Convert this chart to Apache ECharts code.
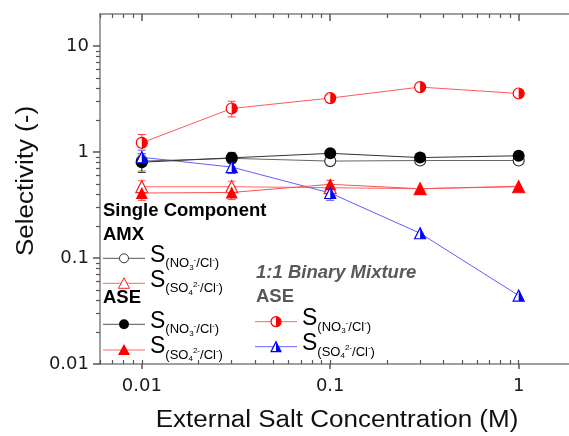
<!DOCTYPE html>
<html><head><meta charset="utf-8">
<script src="https://cdn.jsdelivr.net/npm/echarts@6/dist/echarts.min.js"></script>
<style>html,body{margin:0;padding:0;background:#fff}#c{width:569px;height:436px}</style>
</head><body><div id="c"></div><script>
// ---- data ----
const concentrations = [0.01, 0.03, 0.1, 0.3, 1];
const amxNO3 = [0.82, 0.87, 0.82, 0.83, 0.83];
const amxSO4 = [0.47, 0.47, 0.46, 0.45, 0.47];
const aseNO3 = [0.80, 0.88, 0.97, 0.885, 0.92];
const aseSO4 = [0.41, 0.415, 0.495, 0.45, 0.475];
const binNO3 = [1.22, 2.57, 3.22, 4.09, 3.56];
const binSO4 = [0.89, 0.72, 0.41, 0.171, 0.0442];
// error bars [low, high]
const amxNO3Err = [[0.66, 0.92], [0.80, 0.95], null, null, null];
const amxSO4Err = [[0.42, 0.535], [0.42, 0.53], null, null, null];
const aseNO3Err = [[0.64, 0.96], [0.78, 0.99], null, null, null];
const aseSO4Err = [[0.35, 0.47], [0.355, 0.47], [0.45, 0.54], null, null];
const binNO3Err = [[1.10, 1.46], [2.14, 3.01], null, null, null];
const binSO4Err = [[0.80, 1.04], [0.625, 0.82], [0.35, 0.45], null, null];
// ticks
const xTickLabels = [0.01, 0.1, 1];
const yTickLabels = [0.01, 0.1, 1, 10];
const xMinorTicks = [0.006, 0.007, 0.008, 0.009, 0.02, 0.03, 0.04, 0.05, 0.06, 0.07, 0.08, 0.09, 0.2, 0.3, 0.4, 0.5, 0.6, 0.7, 0.8, 0.9];
const yMinorTicks = [0.02, 0.03, 0.04, 0.05, 0.06, 0.07, 0.08, 0.09, 0.2, 0.3, 0.4, 0.5, 0.6, 0.7, 0.8, 0.9, 2, 3, 4, 5, 6, 7, 8, 9];

const chart = echarts.init(document.getElementById('c'), null, {renderer: 'canvas'});

const pairs = arr => concentrations.map((x, i) => [x, arr[i]]);
const errData = errs => concentrations.map((x, i) => errs[i] ? [x, errs[i][0], errs[i][1]] : null).filter(Boolean);

function errRender(color) {
  return function (params, api) {
    const x = api.value(0);
    const a = api.coord([x, api.value(2)]);
    const b = api.coord([x, api.value(1)]);
    const w = 4;
    const st = {stroke: color, lineWidth: 1};
    return {type: 'group', children: [
      {type: 'line', shape: {x1: a[0], y1: a[1], x2: b[0], y2: b[1]}, style: st},
      {type: 'line', shape: {x1: a[0] - w, y1: a[1], x2: a[0] + w, y2: a[1]}, style: st},
      {type: 'line', shape: {x1: b[0] - w, y1: b[1], x2: b[0] + w, y2: b[1]}, style: st}
    ]};
  };
}

function halfShape(kind, color, cx, cy, s) {
  const r = s / 2;
  if (kind === 'circle') {
    return [
      {type: 'circle', shape: {cx, cy, r}, style: {fill: '#fff', stroke: color, lineWidth: 1.2}},
      {type: 'sector', shape: {cx, cy, r0: 0, r, startAngle: -Math.PI / 2, endAngle: Math.PI / 2, clockwise: true}, style: {fill: color}}
    ];
  }
  return [
    {type: 'polygon', shape: {points: [[cx, cy - r], [cx + r, cy + r], [cx - r, cy + r]]}, style: {fill: '#fff', stroke: color, lineWidth: 1.2}},
    {type: 'polygon', shape: {points: [[cx, cy - r], [cx + r, cy + r], [cx, cy + r]]}, style: {fill: color}}
  ];
}
function halfRender(kind, color) {
  return function (params, api) {
    const p = api.coord([api.value(0), api.value(1)]);
    return {type: 'group', children: halfShape(kind, color, p[0], p[1], 11)};
  };
}

const axisGray = '#808080';
const FONT = 'Liberation Sans, Arial, sans-serif';

const xBase = {type: 'log', min: 0.006, max: 1.85, splitLine: {show: false}, minorTick: {show: false}, minorSplitLine: {show: false}};
const yBase = {type: 'log', min: 0.01, max: 20, splitLine: {show: false}, minorTick: {show: false}, minorSplitLine: {show: false}};

// ---- legend helpers ----
const mctx = document.createElement('canvas').getContext('2d');
function tw(t, size, weight) { mctx.font = (weight || 'normal') + ' ' + size + 'px ' + FONT; return mctx.measureText(t).width; }
function txt(t, x, y, size, opts) {
  opts = opts || {};
  return {type: 'text', x, y, z: 100, scaleX: opts.scaleX || 1, rotation: opts.rotation || 0, style: {
    text: t, fontSize: size, fontFamily: FONT, fontWeight: opts.weight || 'normal', fontStyle: opts.style || 'normal',
    fill: opts.color || '#000', align: opts.align || 'left', textAlign: opts.align || 'left',
    verticalAlign: 'middle', textVerticalAlign: 'middle'}};
}
function chemLabel(x, y, ion) {
  const parts = [{t: 'S', s: 23, dy: -3}, {t: '(' + ion[0], s: 13, dy: 5.5}, {t: ion[1], s: 8, dy: 9}, {t: ion[2], s: 8, dy: 1}, {t: '/Cl', s: 13, dy: 5.5}, {t: '-', s: 8, dy: 1}, {t: ')', s: 13, dy: 5.5}];
  const out = [];
  let cx = x;
  parts.forEach(p => { out.push(txt(p.t, cx, y + p.dy, p.s)); cx += tw(p.t, p.s); });
  return out;
}
function legendRow(x1, x2, y, lineColor, markerEls) {
  return [{type: 'line', z: 100, shape: {x1, y1: y, x2, y2: y}, style: {stroke: lineColor, lineWidth: 1}}].concat(markerEls);
}
const NO3 = ['NO', '3', '-'];
const SO4 = ['SO', '4', '2-'];

const graphics = [];
// axis titles
graphics.push(txt('External Salt Concentration (M)', 337, 421, 23, {align: 'center', scaleX: 1.13, color: '#111'}));
graphics.push(txt('Selectivity (-)', 27, 181, 23, {align: 'center', scaleX: 1.13, rotation: Math.PI / 2, color: '#111'}));
// single component legend
graphics.push(txt('Single Component', 103, 211, 18.5, {weight: 'bold'}));
graphics.push(txt('AMX', 103, 235, 18.5, {weight: 'bold'}));
legendRow(103, 145, 258.3, '#555', [{type: 'circle', z: 101, shape: {cx: 124, cy: 258.3, r: 4.5}, style: {fill: '#fff', stroke: '#333', lineWidth: 1}}]).forEach(e => graphics.push(e));
chemLabel(150, 258.3, NO3).forEach(e => graphics.push(e));
legendRow(103, 145, 283.3, '#ff6666', [{type: 'polygon', z: 101, shape: {points: [[124, 277.8], [129.5, 288.3], [118.5, 288.3]]}, style: {fill: '#fff', stroke: '#ff2020', lineWidth: 1}}]).forEach(e => graphics.push(e));
chemLabel(150, 283.3, SO4).forEach(e => graphics.push(e));
graphics.push(txt('ASE', 103, 298, 18.5, {weight: 'bold'}));
legendRow(103, 145, 324.3, '#555', [{type: 'circle', z: 101, shape: {cx: 124, cy: 324.3, r: 5}, style: {fill: '#000'}}]).forEach(e => graphics.push(e));
chemLabel(150, 324.3, NO3).forEach(e => graphics.push(e));
legendRow(103, 145, 350, '#ff6666', [{type: 'polygon', z: 101, shape: {points: [[124, 344], [130, 355], [118, 355]]}, style: {fill: '#ff0000'}}]).forEach(e => graphics.push(e));
chemLabel(150, 350, SO4).forEach(e => graphics.push(e));
// binary legend
graphics.push(txt('1:1 Binary Mixture', 256, 273, 18.5, {weight: 'bold', style: 'italic', color: '#595959'}));
graphics.push(txt('ASE', 256, 297, 18.5, {weight: 'bold', color: '#595959'}));
legendRow(255, 297, 321.7, '#ff6666', halfShape('circle', '#ff0000', 276, 321.7, 10).map(e => Object.assign(e, {z: 101}))).forEach(e => graphics.push(e));
chemLabel(302, 321.7, NO3).forEach(e => graphics.push(e));
legendRow(255, 297, 346.7, '#6666ff', halfShape('triangle', '#0000ff', 276, 346.7, 10).map(e => Object.assign(e, {z: 101}))).forEach(e => graphics.push(e));
chemLabel(302, 346.7, SO4).forEach(e => graphics.push(e));

const option = {
  animation: false,
  backgroundColor: '#fff',
  grid: {left: 100, top: 14, right: 0, bottom: 72, outerBoundsMode: 'none', containLabel: false},
  xAxis: [
    Object.assign({}, xBase, {position: 'bottom',
      axisLine: {show: true, lineStyle: {color: axisGray, width: 1.5}},
      axisTick: {show: true, inside: false, length: 5, customValues: xTickLabels, lineStyle: {color: '#555', width: 1.5}},
      axisLabel: {show: true, customValues: xTickLabels, formatter: v => String(v), margin: 13, fontSize: 18, fontFamily: 'DejaVu Sans', color: '#1a1a1a'}}),
    Object.assign({}, xBase, {position: 'bottom',
      axisLine: {show: false},
      axisTick: {show: true, inside: true, length: 4, customValues: xMinorTicks.concat(xTickLabels), lineStyle: {color: '#555', width: 1.2}},
      axisLabel: {show: false}}),
    Object.assign({}, xBase, {position: 'top',
      axisLine: {show: true, lineStyle: {color: axisGray, width: 1.5}},
      axisTick: {show: true, inside: true, length: 7, customValues: xTickLabels, lineStyle: {color: '#555', width: 1.5}},
      axisLabel: {show: false}}),
    Object.assign({}, xBase, {position: 'top',
      axisLine: {show: false},
      axisTick: {show: true, inside: true, length: 4, customValues: xMinorTicks, lineStyle: {color: '#555', width: 1.2}},
      axisLabel: {show: false}})
  ],
  yAxis: [
    Object.assign({}, yBase, {position: 'left',
      axisLine: {show: true, lineStyle: {color: axisGray, width: 1.5}},
      axisTick: {show: true, inside: false, length: 7, customValues: yTickLabels, lineStyle: {color: '#555', width: 1.5}},
      axisLabel: {show: true, customValues: yTickLabels, formatter: v => String(v), margin: 11, fontSize: 18, fontFamily: 'DejaVu Sans', color: '#1a1a1a'}}),
    Object.assign({}, yBase, {position: 'left',
      axisLine: {show: false},
      axisTick: {show: true, inside: false, length: 4, customValues: yMinorTicks, lineStyle: {color: '#555', width: 1.2}},
      axisLabel: {show: false}})
  ],
  graphic: {elements: graphics},
  series: [
    {type: 'custom', name: 'errAmxNO3', z: 1, renderItem: errRender('#888'), encode: {x: 0, y: [1, 2]}, data: errData(amxNO3Err)},
    {type: 'custom', name: 'errAmxSO4', z: 1, renderItem: errRender('#ff6666'), encode: {x: 0, y: [1, 2]}, data: errData(amxSO4Err)},
    {type: 'custom', name: 'errAseNO3', z: 1, renderItem: errRender('#444'), encode: {x: 0, y: [1, 2]}, data: errData(aseNO3Err)},
    {type: 'custom', name: 'errAseSO4', z: 1, renderItem: errRender('#ff4040'), encode: {x: 0, y: [1, 2]}, data: errData(aseSO4Err)},
    {type: 'custom', name: 'errBinNO3', z: 1, renderItem: errRender('#ff4040'), encode: {x: 0, y: [1, 2]}, data: errData(binNO3Err)},
    {type: 'custom', name: 'errBinSO4', z: 1, renderItem: errRender('#5050ff'), encode: {x: 0, y: [1, 2]}, data: errData(binSO4Err)},
    {type: 'line', name: 'AMX NO3', z: 2, data: pairs(amxNO3), symbol: 'circle', symbolSize: 11,
      itemStyle: {color: '#fff', borderColor: '#333', borderWidth: 1.2}, lineStyle: {color: '#666', width: 1}},
    {type: 'line', name: 'AMX SO4', z: 2, data: pairs(amxSO4), symbol: 'triangle', symbolSize: 12,
      itemStyle: {color: '#fff', borderColor: '#ff2020', borderWidth: 1.2}, lineStyle: {color: '#ff6666', width: 1}},
    {type: 'line', name: 'ASE NO3', z: 3, data: pairs(aseNO3), symbol: 'circle', symbolSize: 12,
      itemStyle: {color: '#000'}, lineStyle: {color: '#333', width: 1}},
    {type: 'line', name: 'ASE SO4', z: 3, data: pairs(aseSO4), symbol: 'triangle', symbolSize: 12,
      itemStyle: {color: '#ff0000'}, lineStyle: {color: '#ff5050', width: 1}},
    {type: 'line', name: 'Binary NO3', z: 2, data: pairs(binNO3), symbol: 'none', lineStyle: {color: '#ff5a5a', width: 1}},
    {type: 'line', name: 'Binary SO4', z: 2, data: pairs(binSO4), symbol: 'none', lineStyle: {color: '#6060ff', width: 1}},
    {type: 'custom', name: 'Binary NO3 markers', z: 4, renderItem: halfRender('circle', '#ff0000'), encode: {x: 0, y: 1}, data: pairs(binNO3)},
    {type: 'custom', name: 'Binary SO4 markers', z: 4, renderItem: halfRender('triangle', '#0000ff'), encode: {x: 0, y: 1}, data: pairs(binSO4)}
  ]
};
chart.setOption(option);
</script></body></html>
